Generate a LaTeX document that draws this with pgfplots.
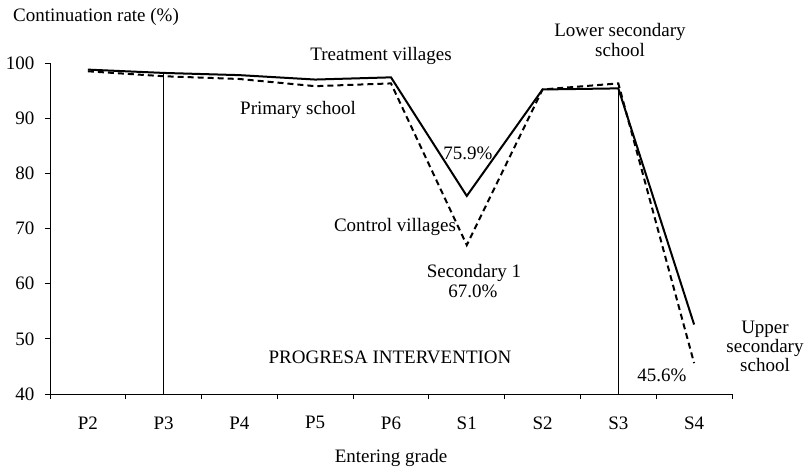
\documentclass[border=0pt]{standalone}
\usepackage{pgfplots}
\pgfplotsset{compat=1.18}
\usepackage{fontspec}
\setmainfont{Liberation Serif}
\begin{document}
\fontsize{19}{22}\selectfont
\begin{tikzpicture}
\path[use as bounding box] (-50pt,-78pt) rectangle (754pt,394pt);
\begin{axis}[
  at={(0pt,0pt)}, anchor=south west,
  scale only axis,
  width=682pt, height=331pt,
  xmin=-0.5, xmax=8.5, ymin=40, ymax=100,
  axis x line*=bottom, axis y line*=left,
  axis line style={-, black, line width=0.8pt},
  clip=false,
  ytick={40,50,...,100},
  xtick={-0.5,0.5,...,8.5},
  xticklabels={},
  extra x ticks={0,1,...,8},
  extra x tick labels={P2,P3,P4,P5,P6,S1,S2,S3,S4},
  extra x tick style={major tick length=0pt, tick label style={yshift=-16pt}},
  tick align=outside,
  major tick length=5pt,
  tick style={black, line width=0.8pt},
  /pgf/number format/assume math mode=true,
  tick label style={font=\fontsize{19}{22}\selectfont},
  yticklabel style={xshift=-4pt},
]
\addplot[black, line width=0.8pt] coordinates {(1,40) (1,98.2)};
\addplot[black, line width=0.8pt] coordinates {(7,40) (7,96.2)};
\addplot[black, line width=2pt] coordinates {
  (0,98.8) (1,98.2) (2,97.8) (3,97.0) (4,97.4) (5,75.9) (6,95.2) (7,95.4) (8,52.6)};
\addplot[black, line width=2pt, dash pattern=on 6pt off 4pt] coordinates {
  (0,98.5) (1,97.6) (2,97.1) (3,95.8) (4,96.3) (5,67.0) (6,95.2) (7,96.3) (8,45.6)};
\end{axis}
\node[anchor=west, inner sep=0pt] at (-37pt,377pt) {Continuation rate (\%)};
\node at (331pt,338pt) {Treatment villages};
\node at (248pt,284pt) {Primary school};
\node at (418pt,241pt) {75.9\%};
\node at (345pt,167pt) {Control villages};
\node at (424pt,121pt) {Secondary 1};
\node at (423pt,103pt) {67.0\%};
\node at (340pt,37pt) {PROGRESA INTERVENTION};
\node[align=center, font=\fontsize{19}{20}\selectfont] at (570pt,354pt) {Lower secondary\\school};
\node[align=center, font=\fontsize{19}{19}\selectfont] at (715pt,48pt) {Upper\\secondary\\school};
\node at (612pt,19pt) {45.6\%};
\node at (341pt,-64pt) {Entering grade};
\end{tikzpicture}
\end{document}
